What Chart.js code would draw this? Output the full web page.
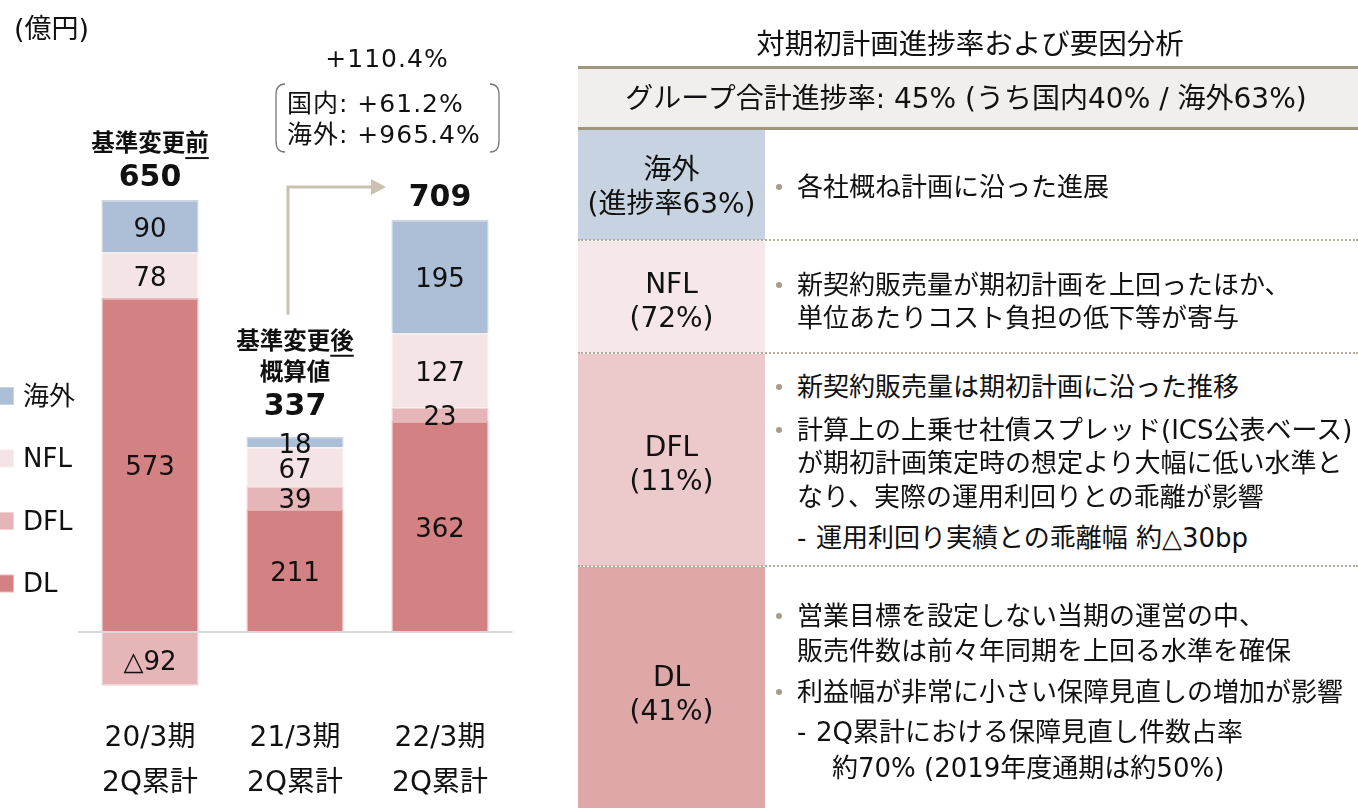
<!DOCTYPE html>
<html><head><meta charset="utf-8">
<script src="https://cdn.jsdelivr.net/npm/chart.js@4.4.1/dist/chart.umd.min.js"></script>
<style>
html,body{margin:0;padding:0;background:#fff;width:1358px;height:808px;overflow:hidden;}
body{font-family:'DejaVu Sans','Noto Sans CJK JP',sans-serif;color:#111;position:relative;}
#chartWrap{position:absolute;left:0;top:0;width:570px;height:808px;}
.t{position:absolute;white-space:nowrap;}
.box{position:absolute;box-sizing:border-box;}
</style></head><body>
<div id="chartWrap"><canvas id="c" width="570" height="808"></canvas></div>
<div id="panel"></div>
<script>
// ---------- data ----------
const categories = [["20/3期","2Q累計"],["21/3期","2Q累計"],["22/3期","2Q累計"]];
const seriesNames = ["DL","DFL","NFL","海外"];
const dlValues = [573, 211, 362];
const dflValues = [-92, 39, 23];
const nflValues = [78, 67, 127];
const overseasValues = [90, 18, 195];
const totals = [650, 337, 709];
const totalNotes = [["基準変更前"], ["基準変更後","概算値"], []];
const unitLabel = "(億円)";
const growthTotal = "+110.4%";
const growthBreakdown = ["国内: +61.2%", "海外: +965.4%"];

const panelTitle = "対期初計画進捗率および要因分析";
const panelHeader = "グループ合計進捗率: 45% (うち国内40% / 海外63%)";
const rowLabels = [["海外","(進捗率63%)"],["NFL","(72%)"],["DFL","(11%)"],["DL","(41%)"]];
const rowTexts = [
  [["•","各社概ね計画に沿った進展"]],
  [["•","新契約販売量が期初計画を上回ったほか、"],["","単位あたりコスト負担の低下等が寄与"]],
  [["•","新契約販売量は期初計画に沿った推移"],["•","計算上の上乗せ社債スプレッド(ICS公表ベース)"],["","が期初計画策定時の想定より大幅に低い水準と"],["","なり、実際の運用利回りとの乖離が影響"],["-","運用利回り実績との乖離幅 約△30bp"]],
  [["•","営業目標を設定しない当期の運営の中、"],["","販売件数は前々年同期を上回る水準を確保"],["•","利益幅が非常に小さい保障見直しの増加が影響"],["-","2Q累計における保障見直し件数占率"],["  ","約70% (2019年度通期は約50%)"]]
];

// ---------- styles / layout ----------
const FONT = "'DejaVu Sans','Noto Sans CJK JP',sans-serif";
const colors = {"DL":"#d48183","DFL":"#e6b5b7","NFL":"#f5e4e5","海外":"#adbfd6"};
const borderCols = {"DL":"#e9b9ba","DFL":"#f1d3d4","NFL":"#f9eeee","海外":"#c9d5e4"};
const seriesData = [dlValues, dflValues, nflValues, overseasValues];

const labelPlugin = {
  id:'labels',
  afterDatasetsDraw(chart){
    const ctx = chart.ctx;
    ctx.save();
    ctx.font = "26px " + FONT;
    ctx.fillStyle = "#111";
    ctx.textAlign = "center"; ctx.textBaseline = "middle";
    chart.data.datasets.forEach((ds, di) => {
      const meta = chart.getDatasetMeta(di);
      meta.data.forEach((el, i) => {
        const v = ds.data[i];
        const txt = v < 0 ? "△" + Math.abs(v) : String(v);
        ctx.fillText(txt, el.x, (el.y + el.base)/2 + 4);
      });
    });
    // totals and notes
    const ys = chart.scales.y, xs = chart.scales.x;
    const tops = [];
    totals.forEach((t, i) => {
      let pos = 0; seriesData.forEach(a => { if (a[i] > 0) pos += a[i]; });
      const top = ys.getPixelForValue(pos);
      tops.push(top);
      const x = xs.getPixelForValue(i);
      // top segment height: if the top label overflows the bar, lift the total
      const lastSeg = seriesData[seriesData.length - 1][i];
      const segPx = Math.abs(ys.getPixelForValue(0) - ys.getPixelForValue(lastSeg));
      const ty = top - 22 - (segPx < 20 ? 8 : 0);
      ctx.font = "bold 30px " + FONT;
      ctx.fillText(String(t), x, ty);
      const notes = totalNotes[i];
      ctx.font = "bold 23.5px " + FONT;
      notes.slice().reverse().forEach((n, k) => {
        const ny = ty - 33 - 31*k;
        ctx.fillText(n, x, ny);
        if (k === notes.length - 1) {
          const w = ctx.measureText(n).width;
          const lw = ctx.measureText(n.slice(-1)).width;
          ctx.fillRect(x + w/2 - lw, ny + 12, lw, 2);
        }
      });
    });
    // unit label
    ctx.font = "27px " + FONT;
    ctx.textAlign = "left";
    ctx.fillText(unitLabel, 14, 31);
    // arrow
    const ax = xs.getPixelForValue(1) - 7;
    const ay0 = tops[1] - 122;
    const ay1 = tops[2] - 33;
    const tipX = xs.getPixelForValue(2) - 54;
    ctx.strokeStyle = "#c9c1b1"; ctx.fillStyle = "#c9c1b1"; ctx.lineWidth = 3;
    ctx.beginPath(); ctx.moveTo(ax, ay0); ctx.lineTo(ax, ay1); ctx.lineTo(tipX - 13, ay1); ctx.stroke();
    ctx.beginPath(); ctx.moveTo(tipX, ay1); ctx.lineTo(tipX - 15, ay1 - 8); ctx.lineTo(tipX - 15, ay1 + 8); ctx.closePath(); ctx.fill();
    // growth annotation
    const cx = tipX + 1;
    ctx.fillStyle = "#111"; ctx.textAlign = "center";
    ctx.font = "25px " + FONT;
    try { ctx.letterSpacing = "1px"; } catch(e) {}
    ctx.fillText(growthTotal, cx, 60);
    ctx.textAlign = "left";
    growthBreakdown.forEach((g, k) => ctx.fillText(g, 287, 105 + 31*k));
    try { ctx.letterSpacing = "0px"; } catch(e) {}
    ctx.strokeStyle = "#777"; ctx.lineWidth = 1.3;
    ctx.beginPath(); ctx.moveTo(285, 84); ctx.quadraticCurveTo(276, 84, 276, 95); ctx.lineTo(276, 141); ctx.quadraticCurveTo(276, 152, 285, 152); ctx.stroke();
    ctx.beginPath(); ctx.moveTo(490, 84); ctx.quadraticCurveTo(499, 84, 499, 95); ctx.lineTo(499, 141); ctx.quadraticCurveTo(499, 152, 490, 152); ctx.stroke();
    // legend (top to bottom: reverse of stacking order)
    ctx.font = "26px " + FONT; ctx.textBaseline = "middle";
    const legendOrder = chart.data.datasets.slice().reverse();
    legendOrder.forEach((ds, k) => {
      const y = 396 + 62.5*k;
      ctx.fillStyle = ds.borderColor; ctx.fillRect(-4, y - 9, 18, 18);
      ctx.fillStyle = ds.backgroundColor; ctx.fillRect(-3, y - 8, 16, 16);
      ctx.fillStyle = "#111"; ctx.fillText(ds.label, 23, y + 2);
    });
    ctx.restore();
  }
};

new Chart(document.getElementById('c').getContext('2d'), {
  type: 'bar',
  data: {
    labels: categories,
    datasets: seriesNames.map((n, i) => ({
      label: n, data: seriesData[i], backgroundColor: colors[n], borderColor: borderCols[n], borderWidth: 1.5
    }))
  },
  options: {
    responsive: false, animation: false, devicePixelRatio: 1,
    layout: {padding: {left: 77.5, right: 57.5, top: 189, bottom: 0}},
    plugins: {legend: {display: false}, tooltip: {enabled: false}},
    datasets: {bar: {categoryPercentage: 1, barPercentage: 0.67}},
    scales: {
      x: {stacked: true, grid: {display: false, drawTicks: false}, border: {display: false},
          ticks: {color: '#111', padding: 15, font: {size: 28, family: FONT, lineHeight: 1.58}, maxRotation: 0},
          afterFit: s => { s.height = 106; }},
      y: {stacked: true, min: -120, max: 760, ticks: {display: false},
          grid: {drawTicks: false, color: '#d9d9d9', lineWidth: 2}, border: {display: false},
          afterFit: s => { s.width = 0; },
          afterBuildTicks: s => { s.ticks = [{value: 0}]; }}
    }
  },
  plugins: [labelPlugin]
});

// ---------- right panel ----------
const panel = document.getElementById('panel');
function el(cls, css, txt){ const d = document.createElement('div'); d.className = cls; Object.assign(d.style, css); if (txt !== undefined) d.textContent = txt; panel.appendChild(d); return d; }
function textAt(txt, x, cy, size, opts){
  const lh = 40;
  const css = Object.assign({top: (cy - lh/2) + 'px', height: lh + 'px', lineHeight: lh + 'px', fontSize: size + 'px'}, opts || {});
  if (css.align === 'center') { delete css.align; css.left = (x - 500) + 'px'; css.width = '1000px'; css.textAlign = 'center'; }
  else css.left = x + 'px';
  return el('t', css, txt);
}
const PL = 578, PR = 1358, LC = 765;
textAt(panelTitle, 970, 45, 28.5, {align: 'center'});
el('box', {left: PL + 'px', top: '66px', width: (PR - PL) + 'px', height: '64px', background: '#f1efeb', borderTop: '3px solid #a0957f', borderBottom: '3px solid #a0957f'});
textAt(panelHeader, 966, 99, 28, {align: 'center'});
const rowBounds = [[130, 240], [241, 353], [354, 566], [567, 808]];
const rowColors = ["#c8d3e1", "#f6e8e8", "#ecc9ca", "#dea7a8"];
const labelYs = [[170, 204], [284, 318], [447, 481], [677, 711]];
const lineYs = [[187], [285, 318], [387, 430, 463, 497, 538], [616, 651, 692, 732, 768]];
rowBounds.forEach((b, r) => {
  el('box', {left: PL + 'px', top: b[0] + 'px', width: (LC - PL) + 'px', height: (b[1] - b[0]) + 'px', background: rowColors[r]});
  if (r < 3) el('box', {left: PL + 'px', top: (b[1] - 1) + 'px', width: (PR - PL) + 'px', height: '0px', borderTop: '2px dotted #b3aa9a'});
  rowLabels[r].forEach((t, k) => textAt(t, (PL + LC)/2, labelYs[r][k], 28, {align: 'center'}));
  rowTexts[r].forEach((ln, k) => {
    const y = lineYs[r][k];
    if (ln[0] === "•") {
      el('box', {left: '776px', top: (y - 3) + 'px', width: '6px', height: '6px', borderRadius: '3px', background: '#a89c88'});
      textAt(ln[1], 797, y, 26);
    } else if (ln[0] === "-") {
      textAt("-", 797, y, 26);
      textAt(ln[1], 816, y, 26);
    } else if (ln[0] === "  ") {
      textAt(ln[1], 832, y, 26);
    } else {
      textAt(ln[1], 797, y, 26);
    }
  });
});
</script>
</body></html>
